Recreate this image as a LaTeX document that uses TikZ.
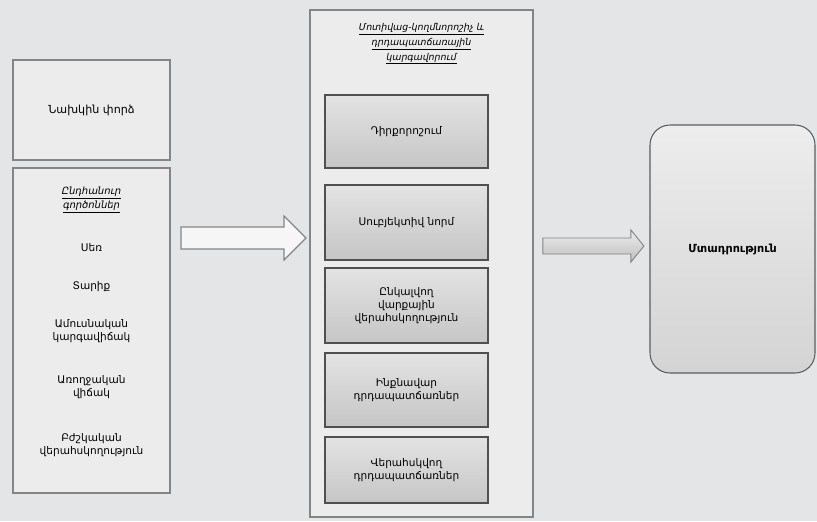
\documentclass[tikz,border=0pt]{standalone}
\usepackage{fontspec}
\setmainfont{DejaVu Sans}
\usepackage{tikz}
\usetikzlibrary{calc}
\definecolor{MyPaper}{HTML}{E4E5E7}
\definecolor{MyFrame}{HTML}{858585}
\definecolor{MyBox}{HTML}{ECECEC}
\newcommand{\px}{0.03cm}

\begin{document}
\begin{tikzpicture}[x=\px,y=-\px,
    OuterBox/.style={draw=MyFrame,line width=1.6pt,fill=MyBox,inner sep=0pt},
    InnerBox/.style={draw=MyFrame!60!black,line width=1pt,top color=gray!22,bottom color=gray!45,
        inner sep=0pt,minimum width=163*\px,align=center,font=\fontsize{9}{11}\selectfont},
    Txt/.style={font=\fontsize{9}{10.5}\selectfont,align=center}]

        \fill[MyPaper] (0,0) rectangle (817,521);

        % left column
        \node[OuterBox,minimum width=157*\px,minimum height=100*\px,font=\fontsize{9.5}{11}\selectfont] (Past) at (91.5,110) {Նախկին փորձ};
        \node[OuterBox,minimum width=157*\px,minimum height=325*\px] (Factors) at (91.5,330.5) {};
            \node[Txt,font=\fontsize{8.5}{11.5}\itshape] (FactTitle) at (91.5,200) {\underline{Ընդհանուր}\\\underline{գործոններ}};
            \node[Txt] (Sex) at (91.5,248) {Սեռ};
            \node[Txt] (Age) at (91.5,287) {Տարիք};
            \node[Txt] (Marital) at (91.5,331) {Ամուսնական\\կարգավիճակ};
            \node[Txt] (Health) at (91.5,387) {Առողջական\\վիճակ};
            \node[Txt] (Medical) at (91.5,445) {Բժշկական\\վերահսկողություն};

        % middle column
        \node[OuterBox,minimum width=223*\px,minimum height=507*\px] (Motive) at (421.5,263.5) {};
            \node[Txt,font=\fontsize{8}{12.5}\itshape] (MotTitle) at (421.5,44) {\underline{Մոտիվաց-կողմնորոշիչ և}\\\underline{դրդապատճառային}\\\underline{կարգավորում}};
            \node[InnerBox,minimum height=73*\px] (Attitude) at (406.5,131.5) {Դիրքորոշում};
            \node[InnerBox,minimum height=75*\px] (Norm) at (406.5,222.5) {Սուբյեկտիվ նորմ};
            \node[InnerBox,minimum height=75*\px] (Control) at (406.5,305.5) {Ընկալվող\\վարքային\\վերահսկողություն};
            \node[InnerBox,minimum height=74*\px] (Autonom) at (406.5,390) {Ինքնավար\\դրդապատճառներ};
            \node[InnerBox,minimum height=66*\px] (Controlled) at (406.5,470) {Վերահսկվող\\դրդապատճառներ};

        % right
        \node[draw=MyFrame!70!black,line width=0.9pt,rounded corners=20*\px,top color=gray!14,bottom color=gray!34,
            minimum width=165*\px,minimum height=248*\px,font=\fontsize{9.5}{11}\bfseries] (Intent) at (732.5,249) {Մտադրություն};

        % arrows
        \coordinate (A) at ([xshift=10*\px]Factors.east |- 0,238);
        \draw[MyFrame,line width=1pt,fill=white!55!MyBox] (A) ++(0,-11) -- ++(103,0) -- ++(0,-11) -- ++(22,22)
            -- ++(-22,22) -- ++(0,-11) -- ++(-103,0) -- cycle;

        \coordinate (B) at ([xshift=9*\px]Motive.east |- 0,246);
        \draw[MyFrame,line width=0.8pt,top color=gray!15,bottom color=gray!50] (B) ++(0,-8) -- ++(88,0) -- ++(0,-8) -- ++(13,16)
            -- ++(-13,16) -- ++(0,-8) -- ++(-88,0) -- cycle;
\end{tikzpicture}
\end{document}
